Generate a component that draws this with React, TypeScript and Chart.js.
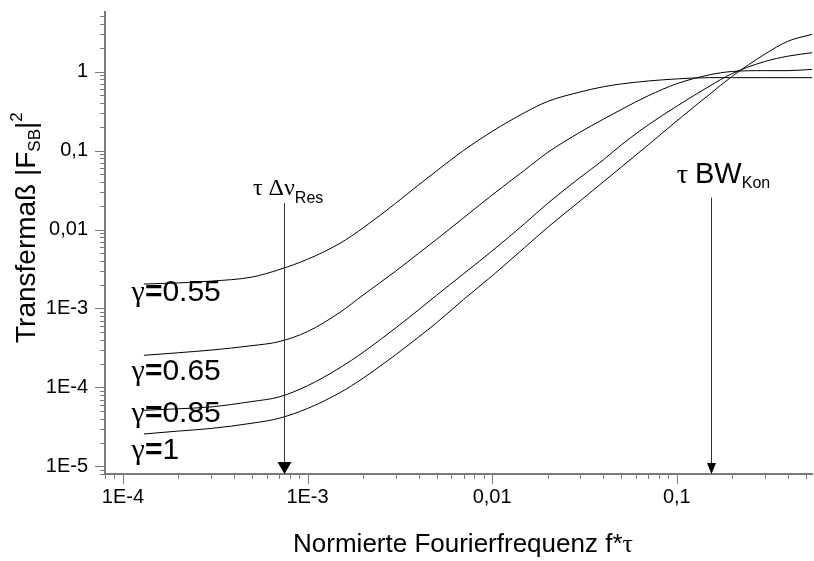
import React, { useEffect, useRef } from 'react';
import { Chart, registerables } from 'chart.js';

Chart.register(...registerables);

// ---- data ----
const frequencies = [1.3e-4, 2e-4, 3e-4, 5e-4, 7e-4, 1e-3, 1.5e-3, 2e-3, 3e-3, 4e-3, 5e-3, 7e-3, 0.01, 0.015, 0.02, 0.03, 0.04, 0.05, 0.07, 0.1, 0.15, 0.2, 0.3, 0.4, 0.54];
const transfer055 = [2.04e-3, 2.11e-3, 2.22e-3, 2.5e-3, 3.1e-3, 4.2e-3, 6.7e-3, 0.0105, 0.0215, 0.0368, 0.0553, 0.1006, 0.175, 0.303, 0.42, 0.553, 0.644, 0.699, 0.762, 0.809, 0.84, 0.84, 0.84, 0.84, 0.84];
const transfer065 = [2.55e-4, 2.75e-4, 2.97e-4, 3.38e-4, 3.8e-4, 5.1e-4, 8.95e-4, 1.48e-3, 2.97e-3, 5.0e-3, 7.5e-3, 0.01406, 0.0274, 0.0566, 0.0949, 0.1715, 0.2497, 0.331, 0.495, 0.703, 0.911, 1.006, 1.03, 1.03, 1.07];
const transfer085 = [5.13e-5, 5.36e-5, 5.66e-5, 6.63e-5, 7.56e-5, 1.05e-4, 1.78e-4, 2.78e-4, 5.66e-4, 9.63e-4, 1.47e-3, 2.75e-3, 5.36e-3, 0.0119, 0.0215, 0.0457, 0.0762, 0.118, 0.2115, 0.365, 0.653, 0.949, 1.346, 1.571, 1.74];
const transfer100 = [2.57e-5, 2.8e-5, 3.02e-5, 3.52e-5, 4.06e-5, 5.41e-5, 8.59e-5, 1.31e-4, 2.59e-4, 4.35e-4, 6.59e-4, 1.3e-3, 2.59e-3, 5.92e-3, 0.01067, 0.0231, 0.0402, 0.0617, 0.118, 0.2377, 0.513, 0.877, 1.666, 2.43, 2.97];
const seriesList = [transfer055, transfer065, transfer085, transfer100];

const gammaValues = ['0.55', '0.65', '0.85', '1'];
const gammaLabelX = 1.115e-4;
const gammaLabelY = [1.23e-3, 1.25e-4, 3.61e-5, 1.24e-5];

const xMajor = [1e-4, 1e-3, 1e-2, 1e-1];
const xMajorLabels = ['1E-4', '1E-3', '0,01', '0,1'];
const yMajor = [1e-5, 1e-4, 1e-3, 1e-2, 1e-1, 1];
const yMajorLabels = ['1E-5', '1E-4', '1E-3', '0,01', '0,1', '1'];

const X_MIN = 8e-5;
const X_MAX = 0.54;
const Y_MIN = 8e-6;
const Y_MAX = 5.7;

// annotations (data coordinates)
const arrowX = [7.45e-4, 0.154];
const arrowTopY = [0.0216, 0.0254];
const annoTextX = [5.06e-4, 0.1];
const annoTextY = [0.0275, 0.0387];

const AXIS_COLOR = '#7a7a7a';
const SANS = '"Liberation Sans", Arial, sans-serif';
const SERIF = '"Liberation Serif", "Times New Roman", serif';

function logTicks(min: number, max: number) {
  const out: number[] = [];
  for (let e = Math.floor(Math.log10(min)); e <= Math.ceil(Math.log10(max)); e++) {
    for (let m = 1; m <= 9; m++) {
      const v = parseFloat((m * Math.pow(10, e)).toPrecision(6));
      if (v >= min * 0.999 && v <= max * 1.001) out.push(v);
    }
  }
  return out;
}

function majorIndex(list: number[], v: number) {
  return list.findIndex((m) => Math.abs(m - v) / m < 1e-6);
}

type Part = { text: string; font: string; dy?: number };

function drawParts(ctx: CanvasRenderingContext2D, x: number, y: number, parts: Part[]) {
  let cx = x;
  for (const p of parts) {
    ctx.font = p.font;
    ctx.fillText(p.text, cx, y + (p.dy || 0));
    cx += ctx.measureText(p.text).width;
  }
  return cx - x;
}

function measureParts(ctx: CanvasRenderingContext2D, parts: Part[]) {
  let w = 0;
  for (const p of parts) {
    ctx.font = p.font;
    w += ctx.measureText(p.text).width;
  }
  return w;
}

const overlayPlugin = {
  id: 'overlay',
  afterDraw(chart: any) {
    const { ctx, chartArea } = chart;
    const xs = chart.scales.x;
    const ys = chart.scales.y;
    ctx.save();
    // tick marks
    ctx.strokeStyle = AXIS_COLOR;
    ctx.lineWidth = 1;
    for (const t of xs.ticks) {
      const px = Math.round(xs.getPixelForValue(t.value)) + 0.5;
      const len = majorIndex(xMajor, t.value) >= 0 ? 10 : 5;
      ctx.beginPath();
      ctx.moveTo(px, chartArea.bottom);
      ctx.lineTo(px, chartArea.bottom + len);
      ctx.stroke();
    }
    for (const t of ys.ticks) {
      const py = Math.round(ys.getPixelForValue(t.value)) + 0.5;
      const len = majorIndex(yMajor, t.value) >= 0 ? 10 : 5;
      ctx.beginPath();
      ctx.moveTo(chartArea.left, py);
      ctx.lineTo(chartArea.left - len, py);
      ctx.stroke();
    }

    ctx.fillStyle = '#000';
    ctx.textBaseline = 'alphabetic';
    ctx.textAlign = 'left';

    // y title (rotated)
    ctx.save();
    ctx.translate(35, 343);
    ctx.rotate(-Math.PI / 2);
    drawParts(ctx, 0, 0, [
      { text: 'Transfermaß |F', font: `28px ${SANS}` },
      { text: 'SB', font: `17px ${SANS}`, dy: 5 },
      { text: '|', font: `28px ${SANS}` },
      { text: '2', font: `17px ${SANS}`, dy: -13 },
    ]);
    ctx.restore();

    // x title
    const xParts: Part[] = [
      { text: 'Normierte Fourierfrequenz f*', font: `26px ${SANS}` },
      { text: 'τ', font: `26px ${SERIF}` },
    ];
    const xw = measureParts(ctx, xParts);
    drawParts(ctx, 463 - xw / 2, 552, xParts);

    // gamma labels
    gammaValues.forEach((g, i) => {
      const px = xs.getPixelForValue(gammaLabelX);
      const py = ys.getPixelForValue(gammaLabelY[i]);
      drawParts(ctx, px, py, [
        { text: 'γ', font: `30px ${SERIF}` },
        { text: '=', font: `bold 30px ${SANS}` },
        { text: g, font: `30px ${SANS}` },
      ]);
    });

    // annotation texts
    drawParts(ctx, xs.getPixelForValue(annoTextX[0]), ys.getPixelForValue(annoTextY[0]), [
      { text: 'τ Δν', font: `24px ${SERIF}` },
      { text: 'Res', font: `16px ${SANS}`, dy: 8 },
    ]);
    drawParts(ctx, xs.getPixelForValue(annoTextX[1]), ys.getPixelForValue(annoTextY[1]), [
      { text: 'τ ', font: `28px ${SERIF}` },
      { text: 'BW', font: `29px ${SANS}` },
      { text: 'Kon', font: `16px ${SANS}`, dy: 5 },
    ]);

    // arrows
    const heads = [
      { hw: 7, hh: 12 },
      { hw: 4.5, hh: 11 },
    ];
    arrowX.forEach((ax, i) => {
      const px = Math.round(xs.getPixelForValue(ax)) + 0.5;
      const top = ys.getPixelForValue(arrowTopY[i]);
      const bottom = chartArea.bottom;
      ctx.strokeStyle = '#333';
      ctx.lineWidth = 1;
      ctx.beginPath();
      ctx.moveTo(px, top);
      ctx.lineTo(px, bottom - heads[i].hh + 1);
      ctx.stroke();
      ctx.fillStyle = '#000';
      ctx.beginPath();
      ctx.moveTo(px - heads[i].hw, bottom - heads[i].hh);
      ctx.lineTo(px + heads[i].hw, bottom - heads[i].hh);
      ctx.lineTo(px, bottom);
      ctx.closePath();
      ctx.fill();
    });

    ctx.restore();
  },
};

export default function App() {
  const canvasRef = useRef<HTMLCanvasElement | null>(null);

  useEffect(() => {
    if (!canvasRef.current) return;
    const chart = new Chart(canvasRef.current, {
      type: 'line',
      data: {
        datasets: seriesList.map((arr) => ({
          data: frequencies.map((f, i) => ({ x: f, y: arr[i] })),
          borderColor: '#000',
          borderWidth: 1,
          pointRadius: 0,
          fill: false,
          cubicInterpolationMode: 'monotone' as const,
        })),
      },
      options: {
        animation: false,
        responsive: true,
        maintainAspectRatio: false,
        layout: { padding: { top: 12, right: 2, left: 0, bottom: 0 } },
        plugins: { legend: { display: false }, tooltip: { enabled: false } },
        scales: {
          x: {
            type: 'logarithmic',
            min: X_MIN,
            max: X_MAX,
            grid: { display: false, drawTicks: false },
            border: { display: true, color: AXIS_COLOR, width: 2 },
            afterBuildTicks: (s: any) => {
              s.ticks = logTicks(X_MIN, X_MAX).map((v) => ({ value: v }));
            },
            afterFit: (s: any) => {
              s.height = 87;
              s.paddingLeft = 0;
              s.paddingRight = 0;
            },
            ticks: {
              autoSkip: false,
              maxRotation: 0,
              padding: 11,
              color: '#000',
              font: { family: SANS, size: 20 },
              callback: (v: any) => {
                const i = majorIndex(xMajor, Number(v));
                return i >= 0 ? xMajorLabels[i] : '';
              },
            },
          },
          y: {
            type: 'logarithmic',
            min: Y_MIN,
            max: Y_MAX,
            grid: { display: false, drawTicks: false },
            border: { display: true, color: AXIS_COLOR, width: 2 },
            afterBuildTicks: (s: any) => {
              s.ticks = logTicks(Y_MIN, Y_MAX).map((v) => ({ value: v }));
            },
            afterFit: (s: any) => {
              s.width = 105;
              s.paddingTop = 0;
              s.paddingBottom = 0;
            },
            ticks: {
              autoSkip: false,
              padding: 17,
              color: '#000',
              font: { family: SANS, size: 20 },
              callback: (v: any) => {
                const i = majorIndex(yMajor, Number(v));
                return i >= 0 ? yMajorLabels[i] : '';
              },
            },
          },
        },
      },
      plugins: [overlayPlugin],
    } as any);
    return () => chart.destroy();
  }, []);

  return (
    <div style={{ position: 'fixed', left: 0, top: 0, width: 814, height: 561, background: '#fff' }}>
      <canvas ref={canvasRef} />
    </div>
  );
}
